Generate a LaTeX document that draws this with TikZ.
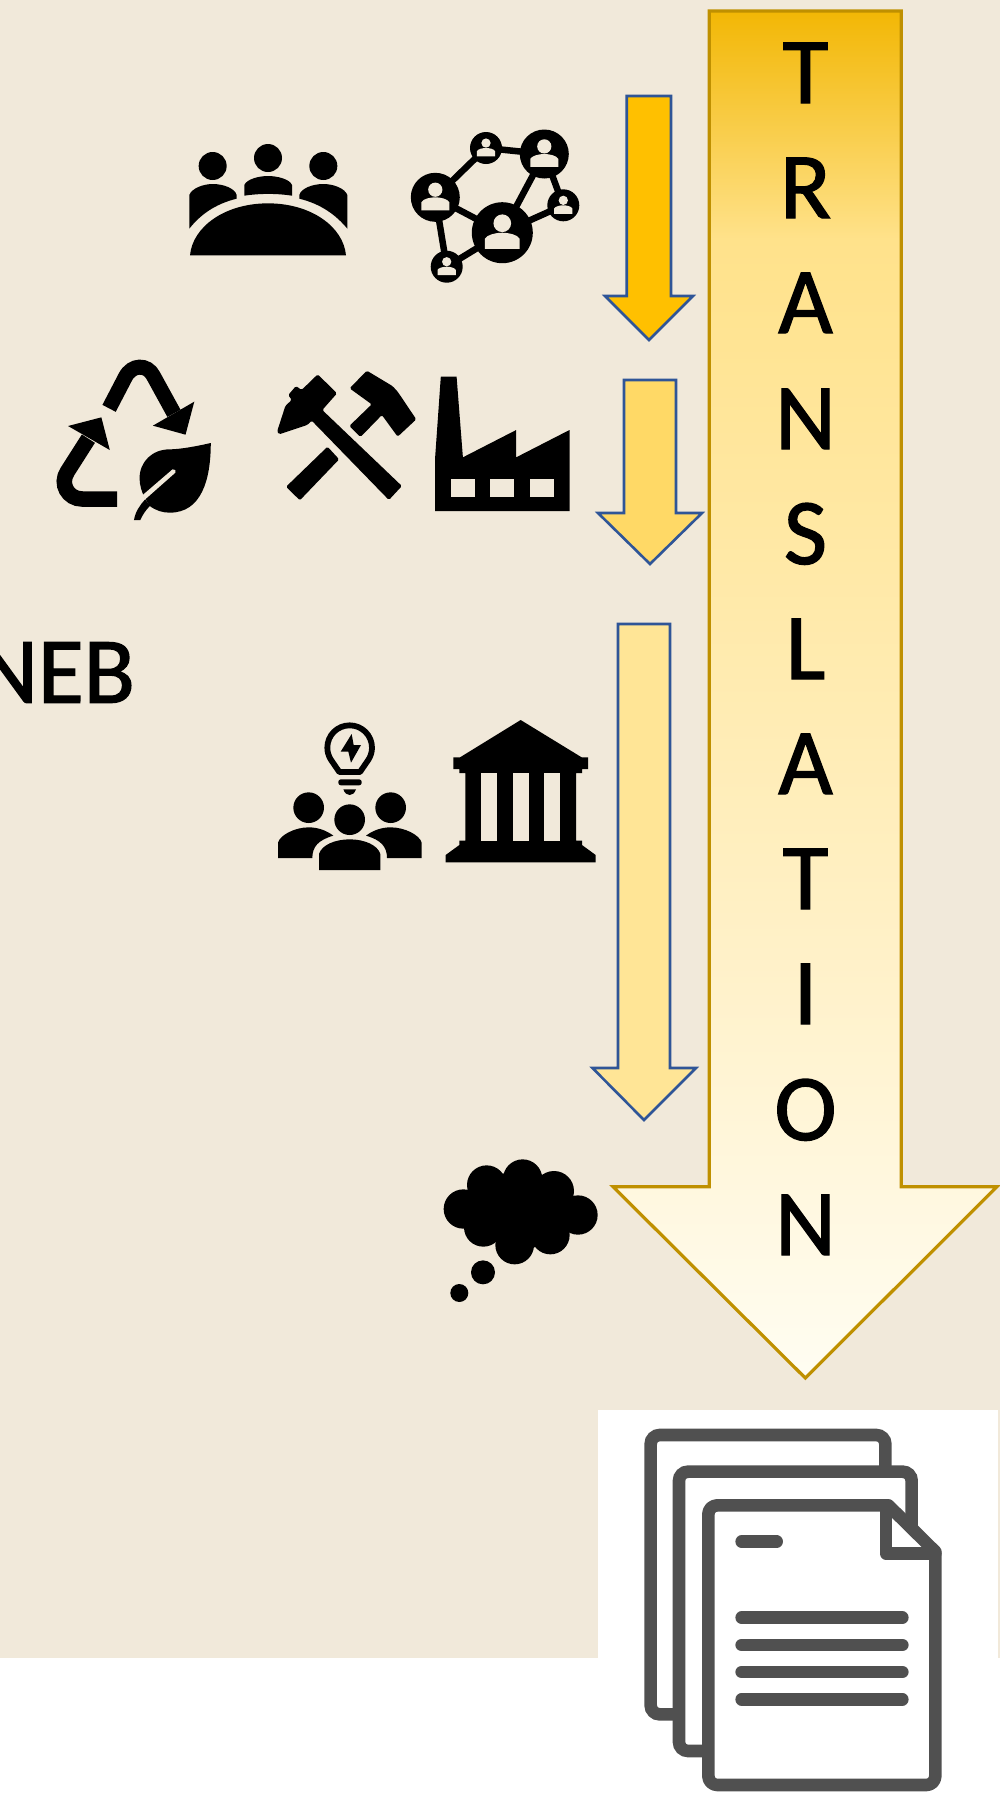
\documentclass[tikz,border=0pt]{standalone}
\usepackage{fontspec}
\setmainfont{Carlito}
\newfontfamily\bigfont[FakeBold=1.4]{Carlito}
\definecolor{bgbeige}{HTML}{F1E9DA}
\definecolor{gold}{HTML}{BF9000}
\definecolor{arrowblue}{HTML}{2F5597}
\definecolor{docgray}{HTML}{505050}
\definecolor{fillA}{HTML}{FFC000}
\definecolor{fillB}{HTML}{FFD966}
\definecolor{fillC}{HTML}{FFE596}
\definecolor{gradA}{HTML}{F2B705}
\definecolor{gradB}{HTML}{FFE28B}
\definecolor{gradC}{HTML}{FFF2CC}
\definecolor{gradD}{HTML}{FFFDF2}
\tikzset{
  bigtext/.style={font=\bigfont\fontsize{94}{100}\selectfont,text=black,inner sep=0pt,anchor=base},
  bluearrow/.style={draw=arrowblue,line width=2.6pt,miter limit=10},
  netlink/.style={draw=black,line width=6.5pt},
  docline/.style={draw=docgray,line width=12.6pt,line cap=round,line join=round},
  docthin/.style={draw=docgray,line width=12.6pt,rounded corners=9pt},
}
\newcommand{\netperson}[3]{%
  \begin{scope}[shift={(#1,#2)},scale=#3]
    \fill[black] (0,0) circle[radius=1];
    \fill[bgbeige] (0,-.31) circle[radius=.29];
    \fill[bgbeige] (-.57,.53) -- (-.57,.2) .. controls (-.5,.06) and (-.2,.0) .. (0,0)
      .. controls (.2,0) and (.5,.06) .. (.57,.2) -- (.57,.53) -- cycle;
  \end{scope}}
\begin{document}
\begin{tikzpicture}[x=1pt,y=-1pt]
\useasboundingbox (0,0) rectangle (1000,1800);
\fill[white] (0,0) rectangle (1000,1800);
\fill[bgbeige] (0,0) rectangle (1000,1658);
\fill[white] (598,1410) rectangle (998,1800);

% main arrow
\begin{scope}
  \clip (709.3,11) -- (901.3,11) -- (901.3,1186.7) -- (997,1186.7) -- (805.3,1378) -- (613,1186.7) -- (709.3,1186.7) -- cycle;
  \shade[top color=gradA,bottom color=gradB] (600,11) rectangle (1000,240);
  \shade[top color=gradB,bottom color=gradC] (600,240) rectangle (1000,1000);
  \shade[top color=gradC,bottom color=gradD] (600,1000) rectangle (1000,1379);
\end{scope}
\draw[gold,line width=3.2pt,miter limit=10] (709.3,11) -- (901.3,11) -- (901.3,1186.7) -- (997,1186.7) -- (805.3,1378) -- (613,1186.7) -- (709.3,1186.7) -- cycle;

% small arrows
\path[bluearrow,fill=fillA] (626.7,96) -- (671,96) -- (671,296) -- (693,296) -- (649,340) -- (605,296) -- (626.7,296) -- cycle;
\path[bluearrow,fill=fillB] (624,380) -- (676,380) -- (676,513) -- (702,513) -- (650,564) -- (598,513) -- (624,513) -- cycle;
\path[bluearrow,fill=fillC] (618,624) -- (670,624) -- (670,1068) -- (696,1068) -- (644,1120) -- (592.5,1068) -- (618,1068) -- cycle;

% letters
\node[bigtext] (l1) at (805.5,103) {T};
\node[bigtext] (l2) at (805.5,218) {R};
\node[bigtext] (l3) at (805.5,333) {A};
\node[bigtext] (l4) at (805.5,449) {N};
\node[bigtext] (l5) at (805.5,564) {S};
\node[bigtext] (l6) at (805.5,679) {L};
\node[bigtext] (l7) at (805.5,794) {A};
\node[bigtext] (l8) at (805.5,909) {T};
\node[bigtext] (l9) at (805.5,1024) {I};
\node[bigtext] (l10) at (805.5,1140) {O};
\node[bigtext] (l11) at (805.5,1255) {N};

% NEB
\node[bigtext,anchor=base west] (neb) at (-23,702.7) {NEB};

% meeting table icon
\begin{scope}[shift={(150,100)},scale=1/3]
  \fill (188,198) circle[radius=42];
  \fill (354,174) circle[radius=42];
  \fill (520,198) circle[radius=42];
  \fill (120,466) .. controls (128,380) and (225,310) .. (354,310) .. controls (483,310) and (580,380) .. (588,466) -- cycle;
  \fill (118,386) -- (118,285) .. controls (125,265) and (160,252) .. (188,252) .. controls (220,252) and (255,265) .. (260,285) -- (260,296) .. controls (195,312) and (150,345) .. (118,386) -- cycle;
  \fill (592,386) -- (592,285) .. controls (585,265) and (550,252) .. (520,252) .. controls (488,252) and (453,265) .. (448,285) -- (448,296) .. controls (513,312) and (558,345) .. (592,386) -- cycle;
  \fill (283,287) -- (283,255) .. controls (290,238) and (325,228) .. (354,228) .. controls (383,228) and (420,238) .. (426,255) -- (426,287) .. controls (380,280) and (330,280) .. (283,287) -- cycle;
\end{scope}

% network icon
\coordinate (na) at (435.3,197.3);
\coordinate (nb) at (486,148);
\coordinate (nc) at (544.3,154);
\coordinate (nd) at (563.3,205.3);
\coordinate (ne) at (502.3,232.7);
\coordinate (nf) at (446.7,266.7);
\path[netlink] (na) -- (nb);
\path[netlink] (nb) -- (nc);
\path[netlink] (nc) -- (ne);
\path[netlink] (nc) -- (nd);
\path[netlink] (nd) -- (ne);
\path[netlink] (na) -- (ne);
\path[netlink] (na) -- (nf);
\path[netlink] (nf) -- (ne);
\netperson{435.3}{197.3}{24.5}
\netperson{486}{148}{16}
\netperson{544.3}{154}{24.5}
\netperson{563.3}{205.3}{16}
\netperson{502.3}{232.7}{30.5}
\netperson{446.7}{266.7}{16}

% row two icons
\begin{scope}[shift={(40,340)},xscale=1.052/3,yscale=1/3]
  % recycle
  \draw[line width=15pt] (197,205) -- (243,112) .. controls (262,72) and (306,72) .. (323,107) -- (382,220);
  \fill (440,185) -- (415,284) -- (322,257) -- cycle;
  \draw[line width=15.5pt] (220,477) -- (120,477) .. controls (80,477) and (55,432) .. (78,395) -- (138,296);
  \fill (175,232) -- (80,258) -- (199,330) -- cycle;
  % leaf
  \fill (487,309) .. controls (450,318) and (400,328) .. (370,328) .. controls (320,328) and (284,365) .. (284,415)
    .. controls (284,435) and (290,455) .. (297,470) -- (312,497) .. controls (330,512) and (350,518) .. (370,518)
    .. controls (460,518) and (487,420) .. (487,309) -- cycle;
  \fill[bgbeige] (378,388) .. controls (385,387) and (390,392) .. (386,398) -- (300,478) -- (293,465) -- cycle;
  \fill (268,540) .. controls (272,515) and (285,495) .. (300,478) -- (314,497) .. controls (302,510) and (292,525) .. (286,540) -- cycle;
  % crossed hammers
  \fill[rounded corners=1.5pt] (805,210) -- (1032,438) -- (995,480) -- (775,242) -- (762,255) -- (682,283) -- (676,275) -- (700,197) -- (718,180) -- (708,165) -- (730,138) -- (746,150) -- (792,103) -- (847,160) -- cycle;
  \fill[rounded corners=1.5pt] (820,320) -- (853,358) -- (741,481) -- (702,440) -- cycle;
  \fill[rounded corners=1.5pt] (883,145) -- (932,92) -- (1005,138) -- (1020,155) -- (1073,238) -- (1020,290) -- (975,225) -- (914,291) -- (882,258) -- (946,193) -- cycle;
  % factory
  \fill (1143,110) -- (1188,110) -- (1206,352) -- (1358,270) -- (1358,352) -- (1510,270) -- (1510,513) -- (1127,513) -- (1127,350) -- cycle;
  \fill[bgbeige] (1172,418) rectangle (1240,472);
  \fill[bgbeige] (1284,418) rectangle (1352,472);
  \fill[bgbeige] (1397,418) rectangle (1465,472);
\end{scope}

% row three icons
\begin{scope}[shift={(260,700)},scale=1/3]
  % bulb
  \draw[line width=5.8pt,line join=round] (238,216) -- (212,178) .. controls (206,168) and (202,156) .. (202,143) .. controls (202,106) and (232,76) .. (269,76) .. controls (306,76) and (336,106) .. (336,143) .. controls (336,156) and (332,168) .. (326,178) -- (300,216) -- cycle;
  \fill (275,102) -- (242,155) -- (265,155) -- (273,188) -- (303,135) -- (281,135) -- cycle;
  \fill[rounded corners=2.5pt] (235,238) rectangle (305,256);
  \fill (250,268) -- (288,268) .. controls (284,280) and (276,285) .. (269,285) .. controls (262,285) and (254,280) .. (250,268) -- cycle;
  % people
  \fill (146,323) circle[radius=46];
  \fill (392,323) circle[radius=46];
  \fill (269,359) circle[radius=46];
  \fill (54,474) -- (54,428) .. controls (60,405) and (105,382) .. (146,382) .. controls (175,382) and (200,392) .. (220,407) .. controls (175,420) and (157,440) .. (157,474) -- cycle;
  \fill (485,474) -- (485,428) .. controls (479,405) and (434,382) .. (392,382) .. controls (363,382) and (338,392) .. (318,407) .. controls (363,420) and (381,440) .. (381,474) -- cycle;
  \fill (177,510) -- (177,462) .. controls (185,435) and (225,418) .. (269,418) .. controls (313,418) and (353,435) .. (361,462) -- (361,510) -- cycle;
  % temple
  \fill (782,60) -- (965,172) -- (984,172) -- (984,207) -- (966,207) -- (966,219) -- (948,219) -- (948,422) -- (966,422) -- (966,435) -- (1007,465) -- (1007,487) -- (557,487) -- (557,465) -- (598,435) -- (598,422) -- (616,422) -- (616,219) -- (598,219) -- (598,207) -- (580,207) -- (580,172) -- (600,172) -- cycle;
  \fill[bgbeige] (663,220) rectangle (711,422);
  \fill[bgbeige] (758,220) rectangle (806,422);
  \fill[bgbeige] (853,220) rectangle (901,422);
\end{scope}

% thought cloud
\begin{scope}[shift={(420,1140)},scale=1/3]
  \fill (130,207) circle[radius=59];
  \fill (200,135) circle[radius=59];
  \fill (308,117) circle[radius=59];
  \fill (402,153) circle[radius=60];
  \fill (474,225) circle[radius=59];
  \fill (190,262) circle[radius=58];
  \fill (284,315) circle[radius=58];
  \fill (391,285) circle[radius=58];
  \fill (300,210) circle[radius=120];
  \fill (189,397) circle[radius=36];
  \fill (118,459) circle[radius=27];
\end{scope}

% documents
\begin{scope}[shift={(590,1400)},scale=1/3]
  \path[docthin] (886,215) -- (886,105) -- (182,105) -- (182,943) -- (268,943);
  \path[docthin] (965,385) -- (965,215) -- (267,215) -- (267,1053) -- (355,1053);
  \path[docline] (600,316) -- (895,316) -- (1036,455) -- (1036,600) [rounded corners=9pt] -- (1036,1155) -- (355,1155) -- (355,316) -- (600,316);
  \path[docline] (888,335) -- (888,460) -- (1036,460);
  \path[docline] (455,425) -- (560,425);
  \path[docline] (455,653) -- (937,653);
  \path[docline] (455,735) -- (937,735);
  \path[docline] (455,816) -- (937,816);
  \path[docline] (455,898) -- (937,898);
\end{scope}
\end{tikzpicture}
\end{document}
